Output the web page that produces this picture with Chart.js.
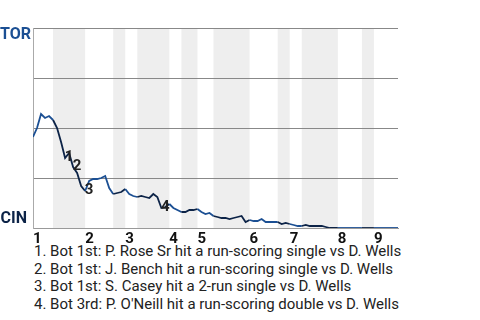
<!DOCTYPE html>
<html>
<head>
<meta charset="utf-8">
<script src="https://cdn.jsdelivr.net/npm/chart.js@4.4.1/dist/chart.umd.min.js"></script>
<style>
  body { margin: 0; background: #fff; font-family: Roboto, "Noto Sans", sans-serif; }
  #wrap { position: relative; width: 480px; height: 243px; }
  #notes { margin: 0 0 0 34px; font-size: 15px; line-height: 17.5px; color: #222; white-space: nowrap; }
</style>
</head>
<body>
<div id="wrap"><canvas id="wpChart"></canvas></div>
<div id="notes"></div>
<script>
// win probability for TOR (0 = CIN wins, 100 = TOR wins), one value per plate appearance
const winProb = [45.5, 50, 57, 55, 56, 54, 50, 43, 35, 37.5,
  30.5, 27.5, 21, 18.5, 23.5, 24.5, 24.5, 25, 26, 20,
  17, 17.5, 18, 19.5, 17, 16, 15.5, 16, 15.5, 15,
  17, 15.5, 10, 10.5, 12, 10, 9, 8, 8, 9,
  9, 9.5, 8, 7, 7.5, 6, 5.5, 5, 5, 4.5,
  5, 5.5, 6, 3, 4, 3.5, 3.5, 4.5, 3, 3,
  3, 3, 2, 2.5, 2, 1.5, 1, 1, 1.5, 1,
  1, 1, 1, 0.5, 0, 0, 0, 0, 0, 0,
  0, 0, 0, 0, 0, 0, 0, 0, 0, 0,
  0, 0];

// plate appearance where each inning starts, and the bottom halves (CIN batting)
const inningStarts = [0, 13, 23, 34, 41, 54, 64, 76, 85];
const inningLabels = ['1', '2', '3', '4', '5', '6', '7', '8', '9'];
const bottomHalves = [[5, 13], [20, 23], [26, 34], [37, 41], [45, 54], [61, 64], [67, 76], [82, 85]];
const lastPA = 91;

// key plays
const eventPA = [8, 10, 13, 32];
const eventNotes = [
  '1. Bot 1st: P. Rose Sr hit a run-scoring single vs D. Wells',
  '2. Bot 1st: J. Bench hit a run-scoring single vs D. Wells',
  '3. Bot 1st: S. Casey hit a 2-run single vs D. Wells',
  '4. Bot 3rd: P. O\'Neill hit a run-scoring double vs D. Wells'
];

const torBlue = '#1b4f93';
const cinNavy = '#0c2347';

document.getElementById('notes').innerHTML = eventNotes.map(n => '<div>' + n + '</div>').join('');

function isBottom(x) {
  return bottomHalves.some(h => x >= h[0] && x < h[1]);
}

const bandsPlugin = {
  id: 'bands',
  beforeDraw(chart) {
    const c = chart.ctx, a = chart.chartArea, xs = chart.scales.x;
    c.save();
    c.fillStyle = '#eeeeee';
    bottomHalves.forEach(h => {
      const x0 = xs.getPixelForValue(h[0]), x1 = xs.getPixelForValue(h[1]);
      c.fillRect(x0, a.top, x1 - x0, a.bottom - a.top);
    });
    c.restore();
  },
  afterDatasetsDraw(chart) {
    const c = chart.ctx, a = chart.chartArea, xs = chart.scales.x, ys = chart.scales.y;
    c.save();
    c.font = 'bold 15px Roboto, "Noto Sans", sans-serif';
    c.textAlign = 'center';
    c.textBaseline = 'middle';
    c.fillStyle = '#222';
    eventPA.forEach((pa, i) => {
      c.fillText(String(i + 1), xs.getPixelForValue(pa) + 4, ys.getPixelForValue(winProb[pa]) - 1);
    });
    // team labels
    c.font = 'bold 16px Roboto, "Noto Sans", sans-serif';
    c.textAlign = 'right';
    c.textBaseline = 'top';
    c.fillStyle = torBlue;
    c.fillText('TOR', a.left - 2, a.top - 1);
    c.textBaseline = 'bottom';
    c.fillStyle = cinNavy;
    c.fillText('CIN', a.left - 6, a.bottom - 1);
    c.restore();
  }
};

new Chart(document.getElementById('wpChart'), {
  type: 'line',
  data: {
    datasets: [{
      data: winProb.map((v, i) => ({ x: i, y: v })),
      borderColor: torBlue,
      borderWidth: 1.8,
      pointRadius: 0,
      tension: 0,
      fill: false,
      segment: {
        borderColor: ctx => isBottom(ctx.p0.parsed.x) ? cinNavy : torBlue
      }
    }]
  },
  options: {
    responsive: true,
    maintainAspectRatio: false,
    animation: false,
    layout: { padding: { left: 0, top: 28, right: 82, bottom: 0 } },
    scales: {
      x: {
        type: 'linear',
        min: 0,
        max: lastPA,
        afterFit(scale) { scale.height = 15; },
        afterBuildTicks(scale) { scale.ticks = inningStarts.map(v => ({ value: v })); },
        grid: { display: false, drawTicks: false },
        border: { color: '#999' },
        ticks: {
          align: 'start',
          padding: 2,
          color: '#111',
          font: { family: 'Roboto', weight: 'bold', size: 15 },
          callback: (v, i) => inningLabels[i]
        }
      },
      y: {
        min: 0,
        max: 100,
        afterFit(scale) { scale.width = 33; },
        ticks: { stepSize: 25, display: false },
        grid: { color: '#888', drawTicks: false },
        border: { color: '#aaa' }
      }
    },
    plugins: {
      legend: { display: false },
      tooltip: { enabled: false }
    }
  },
  plugins: [bandsPlugin]
});
</script>
</body>
</html>
